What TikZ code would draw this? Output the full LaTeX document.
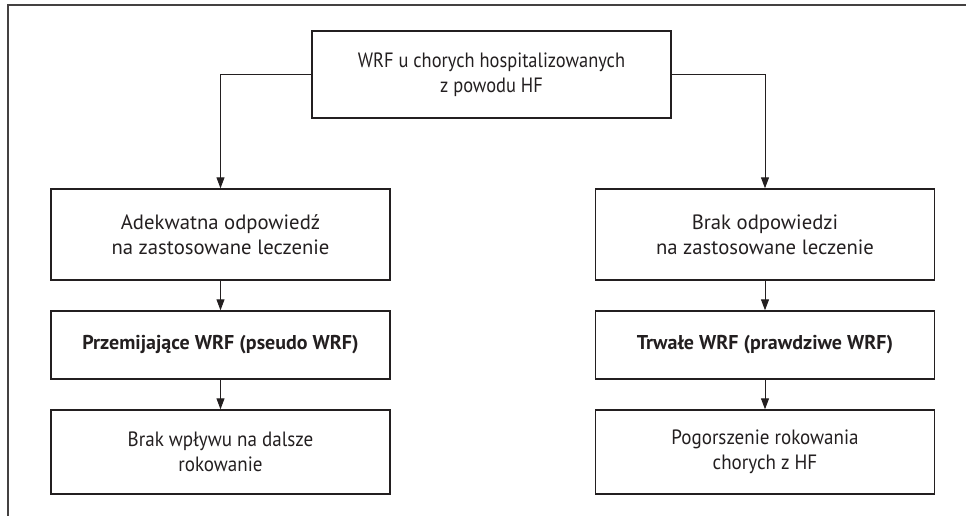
\documentclass[tikz,border=0pt]{standalone}
\usepackage{fontspec}
\setmainfont{PT Sans}
\usetikzlibrary{arrows.meta}
\definecolor{ink}{HTML}{231F20}
\begin{document}
\begin{tikzpicture}[x=1pt,y=-1pt,
  box/.style={draw=ink, line width=1.4pt, text=ink, align=center, inner sep=0pt, minimum width=339pt, font=\fontsize{20.7}{25}\selectfont},
  boldbox/.style={box, font=\fontsize{20}{25}\selectfont\bfseries},
  arr/.style={draw=ink, line width=1pt, -{Triangle[length=11pt,width=8pt]}},
  frame/.style={draw=ink!85, line width=1.5pt}
]
\useasboundingbox (0,0) rectangle (966,516);
\draw[frame] (8,520) -- (8,5) -- (970,5);

\node[box, minimum width=359pt, minimum height=87pt] (top) at (491.5,74.5)
  {\scalebox{0.89}[1]{WRF u chorych hospitalizowanych}\\\scalebox{0.89}[1]{z powodu HF}};

\node[box, minimum height=91pt] (l1) at (220.5,234.5) {Adekwatna odpowiedź\\na zastosowane leczenie};
\node[boldbox, minimum height=68pt] (l2) at (220.5,345) {Przemijające WRF (pseudo WRF)};
\node[box, minimum height=84pt] (l3) at (220.5,452) {\scalebox{0.92}[1]{Brak wpływu na dalsze}\\\scalebox{0.92}[1]{rokowanie}};

\node[box, minimum height=91pt] (r1) at (765,234.5) {Brak odpowiedzi\\na zastosowane leczenie};
\node[boldbox, minimum height=68pt] (r2) at (765,345) {Trwałe WRF (prawdziwe WRF)};
\node[box, minimum height=84pt] (r3) at (765,452) {\scalebox{0.92}[1]{Pogorszenie rokowania}\\\scalebox{0.92}[1]{chorych z HF}};

\draw[arr] (top.west) -| (l1.north);
\draw[arr] (top.east) -| (r1.north);
\draw[arr] (l1) -- (l2);
\draw[arr] (l2) -- (l3);
\draw[arr] (r1) -- (r2);
\draw[arr] (r2) -- (r3);
\end{tikzpicture}
\end{document}
